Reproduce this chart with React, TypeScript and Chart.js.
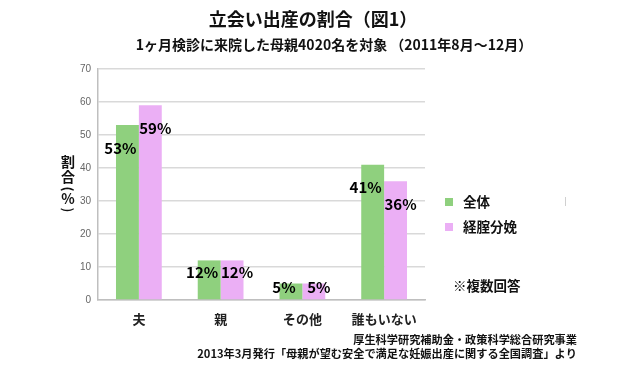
import React, { useEffect, useRef } from "react";
import { Chart, registerables } from "chart.js";

Chart.register(...registerables);

const categories = ["夫", "親", "その他", "誰もいない"];
const seriesNames = ["全体", "経腟分娩"];
const allValues = [53, 12, 5, 41];
const vaginalValues = [59, 12, 5, 36];
const yMax = 70;
const yStep = 10;
const titleText = "立会い出産の割合（図1）";
const subtitleText = "1ヶ月検診に来院した母親4020名を対象 （2011年8月～12月）";
const yAxisTitleChars = ["割", "合", "(", "%", ")"];
const noteText = "※複数回答";
const footerLines = [
  "厚生科学研究補助金・政策科学総合研究事業",
  "2013年3月発行「母親が望む安全で満足な妊娠出産に関する全国調査」より",
];

const GREEN = "#8fd07e";
const PINK = "#ebaff5";
const JP = '"Noto Sans CJK JP", "Noto Sans", sans-serif';

const decorPlugin = {
  id: "decor",
  afterDatasetsDraw(chart: any) {
    const ctx = chart.ctx;
    ctx.save();
    ctx.fillStyle = "#000";
    ctx.font = `bold 15px ${JP}`;
    ctx.textAlign = "center";
    ctx.textBaseline = "middle";
    chart.data.datasets.forEach((ds: any, di: number) => {
      const meta = chart.getDatasetMeta(di);
      meta.data.forEach((el: any, i: number) => {
        const h = el.base - el.y;
        const dx = di === 0 ? -7 : 5;
        const dy = Math.min(0.35 * h, 25) - 2;
        ctx.fillText(`${ds.data[i]}%`, el.x + dx, el.y + dy);
      });
    });
    ctx.restore();
  },
  afterDraw(chart: any) {
    const ctx = chart.ctx;
    ctx.save();
    ctx.fillStyle = "#111";
    ctx.textBaseline = "middle";
    ctx.textAlign = "center";
    ctx.font = `bold 18px ${JP}`;
    ctx.fillText(titleText, 313, 19);
    ctx.font = `bold 14px ${JP}`;
    ctx.fillText(subtitleText, 334, 45);

    // vertical y-axis title
    const ys = [162, 177, 189, 199, 210];
    yAxisTitleChars.forEach((c, i) => {
      if (c === "(" || c === ")") {
        ctx.save();
        ctx.translate(68, ys[i]);
        ctx.rotate(Math.PI / 2);
        ctx.font = `bold 13px ${JP}`;
        ctx.fillText(c, 0, 0);
        ctx.restore();
      } else {
        ctx.font = `bold 14px ${JP}`;
        ctx.fillText(c, 68, ys[i]);
      }
    });

    // legend
    ctx.textAlign = "left";
    ctx.font = `bold 13.5px ${JP}`;
    const colors = [GREEN, PINK];
    seriesNames.forEach((name, i) => {
      const y = 202 + i * 25;
      ctx.fillStyle = colors[i];
      ctx.fillRect(445, y - 4, 8, 8);
      ctx.fillStyle = "#111";
      ctx.fillText(name, 463, y);
    });
    ctx.strokeStyle = "#d0d0d0";
    ctx.lineWidth = 1;
    ctx.beginPath();
    ctx.moveTo(565.5, 197);
    ctx.lineTo(565.5, 206);
    ctx.stroke();

    ctx.font = `bold 13.5px ${JP}`;
    ctx.fillText(noteText, 453, 286);

    // footer
    ctx.textAlign = "right";
    ctx.font = `bold 11.2px ${JP}`;
    ctx.fillText(footerLines[0], 577, 340);
    ctx.fillText(footerLines[1], 577, 354);
    ctx.restore();
  },
};

export default function App() {
  const ref = useRef<HTMLCanvasElement | null>(null);
  useEffect(() => {
    if (!ref.current) return;
    const chart = new Chart(ref.current, {
      type: "bar",
      data: {
        labels: categories,
        datasets: [
          {
            label: seriesNames[0],
            data: allValues,
            backgroundColor: GREEN,
            borderWidth: 0,
            categoryPercentage: 0.56,
            barPercentage: 1,
          },
          {
            label: seriesNames[1],
            data: vaginalValues,
            backgroundColor: PINK,
            borderWidth: 0,
            categoryPercentage: 0.56,
            barPercentage: 1,
          },
        ],
      },
      options: {
        responsive: false,
        animation: false,
        events: [],
        layout: { padding: { top: 69, left: 0, right: 205, bottom: 38 } },
        plugins: {
          legend: { display: false },
          title: { display: false },
          tooltip: { enabled: false },
        },
        scales: {
          x: {
            grid: { display: false, drawTicks: false },
            border: { display: true, color: "#bfbfbf", width: 1.5 },
            ticks: {
              color: "#222",
              padding: 11,
              font: { family: JP, size: 13, weight: "bold" },
            },
            afterFit: (s: any) => {
              s.height = 30;
            },
          },
          y: {
            min: 0,
            max: yMax,
            ticks: {
              stepSize: yStep,
              color: "#666",
              padding: 7,
              font: { family: '"Liberation Sans", Arial, sans-serif', size: 10 },
            },
            grid: { color: "#d9d9d9", lineWidth: 1.5, drawTicks: false },
            border: { display: true, color: "#bfbfbf", width: 1.5 },
            afterFit: (s: any) => {
              s.width = 98;
            },
          },
        },
      },
      plugins: [decorPlugin],
    });
    return () => chart.destroy();
  }, []);
  return (
    <div style={{ position: "absolute", left: 0, top: 0, width: 630, height: 368, background: "#fff" }}>
      <canvas ref={ref} width={630} height={368} style={{ display: "block" }} />
    </div>
  );
}
